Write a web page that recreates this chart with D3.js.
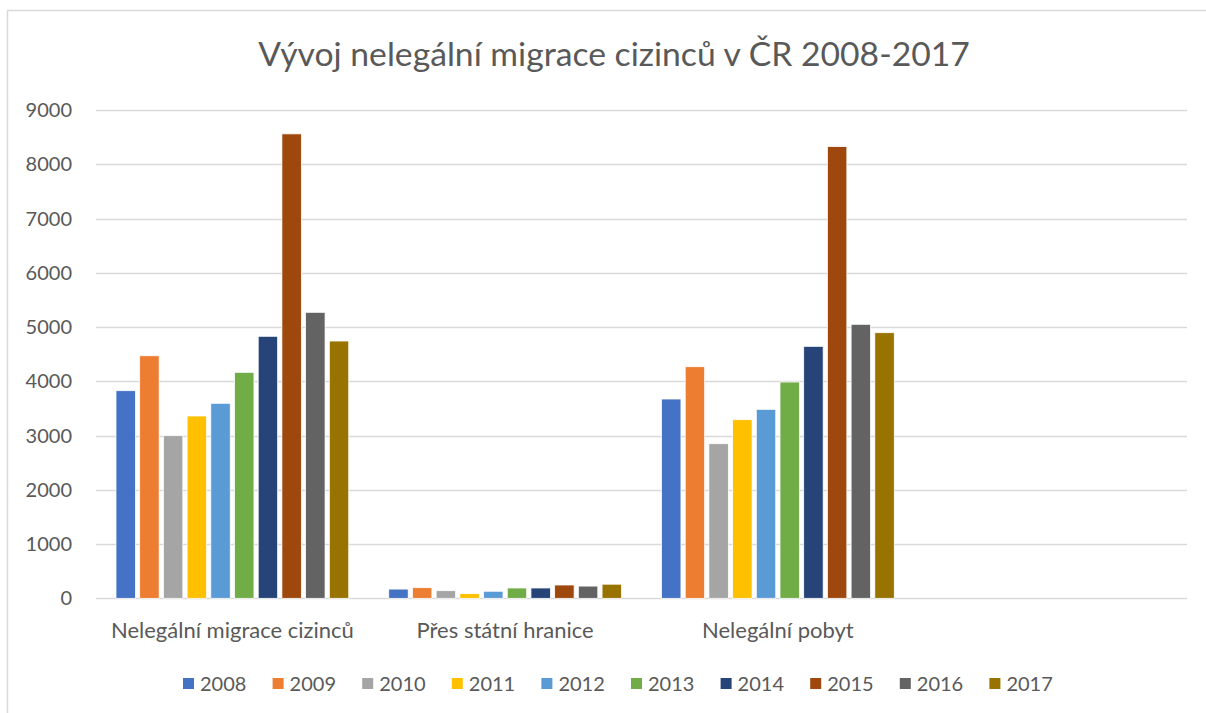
<!DOCTYPE html>
<html>
<head>
<meta charset="utf-8">
<script src="https://cdn.jsdelivr.net/npm/d3@7"></script>
<style>
  body { margin: 0; background: #fff; }
  text { font-family: Lato, "Open Sans", sans-serif; fill: #595959; }
</style>
</head>
<body>
<div id="chart"></div>
<script>
// DATA
var categories = ["Nelegální migrace cizinců", "Přes státní hranice", "Nelegální pobyt", ""];
var years = ["2008", "2009", "2010", "2011", "2012", "2013", "2014", "2015", "2016", "2017"];
var migrace = [3826, 4470, 2997, 3360, 3594, 4165, 4829, 8560, 5271, 4742];
var hranice = [170, 195, 140, 85, 130, 190, 190, 245, 225, 260];
var pobyt = [3673, 4268, 2849, 3292, 3483, 3986, 4644, 8325, 5050, 4895];
var yTicks = [0, 1000, 2000, 3000, 4000, 5000, 6000, 7000, 8000, 9000];
var colours = ["#4472C4", "#ED7D31", "#A5A5A5", "#FFC000", "#5B9BD5", "#70AD47", "#264478", "#9E480E", "#636363", "#997300"];

var series = [migrace, hranice, pobyt, []];

var W = 1206, H = 713;
var svg = d3.select("#chart").append("svg")
  .attr("width", W)
  .attr("height", H);

// chart frame
svg.append("rect")
  .attr("x", 7.5).attr("y", 10.5)
  .attr("width", W).attr("height", H)
  .attr("fill", "none")
  .attr("stroke", "#d9d9d9")
  .attr("stroke-width", 1.5);

// title
svg.append("text")
  .attr("x", 614).attr("y", 66)
  .attr("text-anchor", "middle")
  .style("font-size", "33.7px")
  .text("Vývoj nelegální migrace cizinců v ČR 2008-2017");

var x0 = d3.scaleBand().domain(categories).range([96, 1187]);
var x1 = d3.scaleBand().domain(years)
  .range([20, x0.bandwidth() - 20])
  .paddingInner(0.18);
var y = d3.scaleLinear().domain([0, 9000]).range([598.3, 110]);

// gridlines
svg.append("g")
  .selectAll("line")
  .data(yTicks)
  .enter()
  .append("line")
  .attr("x1", 96).attr("x2", 1187)
  .attr("y1", function(d) { return Math.round(y(d)) + 0.5; })
  .attr("y2", function(d) { return Math.round(y(d)) + 0.5; })
  .attr("stroke", "#d9d9d9")
  .attr("stroke-width", 1.5);

// y labels
svg.append("g")
  .selectAll("text")
  .data(yTicks)
  .enter()
  .append("text")
  .attr("x", 72)
  .attr("y", function(d) { return y(d) + 7; })
  .attr("text-anchor", "end")
  .style("font-size", "20px")
  .text(function(d) { return d; });

// bars
var groups = svg.append("g")
  .selectAll("g")
  .data(categories)
  .enter()
  .append("g")
  .attr("transform", function(d) { return "translate(" + x0(d) + ",0)"; });

groups.selectAll("rect")
  .data(function(d, i) {
    return series[i].map(function(v, j) { return {year: years[j], value: v, c: colours[j]}; });
  })
  .enter()
  .append("rect")
  .attr("x", function(d) { return x1(d.year); })
  .attr("y", function(d) { return y(d.value); })
  .attr("width", x1.bandwidth())
  .attr("height", function(d) { return y(0) - y(d.value); })
  .attr("fill", function(d) { return d.c; })
  .attr("stroke", "#fff")
  .attr("stroke-width", 0.75);

// category labels
svg.append("g")
  .selectAll("text")
  .data(categories)
  .enter()
  .append("text")
  .attr("x", function(d) { return x0(d) + x0.bandwidth() / 2; })
  .attr("y", 638)
  .attr("text-anchor", "middle")
  .style("font-size", "22px")
  .text(function(d) { return d; });

// legend
var legend = svg.append("g")
  .selectAll("g")
  .data(years)
  .enter()
  .append("g")
  .attr("transform", function(d, i) { return "translate(" + (183 + i * 89.6) + ",0)"; });

legend.append("rect")
  .attr("x", 0).attr("y", 678)
  .attr("width", 11).attr("height", 11)
  .attr("fill", function(d, i) { return colours[i]; });

legend.append("text")
  .attr("x", 17).attr("y", 691)
  .style("font-size", "20px")
  .text(function(d) { return d; });
</script>
</body>
</html>
